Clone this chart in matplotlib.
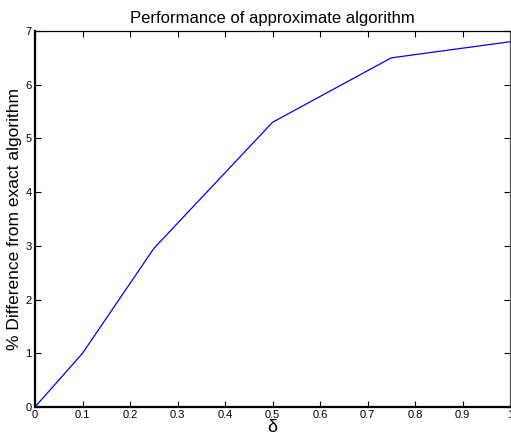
import matplotlib
matplotlib.use("Agg")
import matplotlib.pyplot as plt

# values
delta = [0.0, 0.1, 0.25, 0.5, 0.75, 1.0]
pct_diff = [0.0, 1.0, 2.95, 5.3, 6.5, 6.8]
x_ticks = [0, 0.1, 0.2, 0.3, 0.4, 0.5, 0.6, 0.7, 0.8, 0.9, 1]
x_ticklabels = ["0", "0.1", "0.2", "0.3", "0.4", "0.5", "0.6", "0.7", "0.8", "0.9", "1"]
y_ticks = [0, 1, 2, 3, 4, 5, 6, 7]

plt.rcParams["font.family"] = ["Liberation Sans", "DejaVu Sans"]

fig = plt.figure(figsize=(5.11, 4.37), dpi=100)
ax = fig.add_axes([35 / 511, 30 / 437, 475 / 511, 376 / 437])

ax.plot(delta, pct_diff, color="#0000ff", linewidth=0.9)
ax.set_xlim(0, 1)
ax.set_ylim(0, 7)
ax.set_xticks(x_ticks)
ax.set_xticklabels(x_ticklabels)
ax.set_yticks(y_ticks)
ax.tick_params(direction="in", length=4, width=0.8, labelsize=8,
               top=True, right=True, pad=2.5)

ax.spines["left"].set_linewidth(1.6)
ax.spines["bottom"].set_linewidth(1.6)
ax.spines["top"].set_linewidth(0.9)
ax.spines["right"].set_linewidth(0.9)
ax.spines["right"].set_color("#555555")

ax.set_title("Performance of approximate algorithm", fontsize=12, pad=6)
ax.set_xlabel("δ", fontsize=13, labelpad=-1)
ax.set_ylabel("% Difference from exact algorithm", fontsize=12.5, labelpad=2)

fig.savefig("out.png", dpi=100)
